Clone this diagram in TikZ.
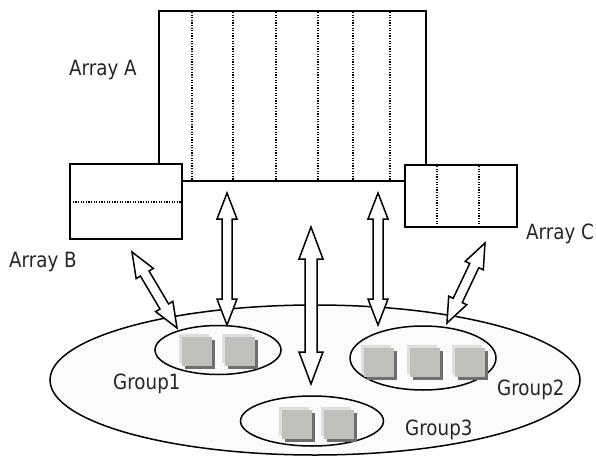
\documentclass[tikz,border=0pt]{standalone}
\usepackage{fontspec}
\setmainfont{DejaVu Sans}[FakeStretch=0.87]
\usetikzlibrary{calc,shapes.geometric}
\definecolor{sqmain}{HTML}{C0BFBC}
\definecolor{sqlight}{HTML}{DEDEDE}
\definecolor{sqdark}{HTML}{6E6E6E}
\definecolor{ellfill}{HTML}{FBFBFB}
\tikzset{
  outline/.style={draw=black, line width=1.5pt},
  arraybox/.style={outline, fill=white, rectangle, inner sep=0pt},
  groupell/.style={outline, fill=ellfill, ellipse, inner sep=0pt},
  dotline/.style={line width=1.3pt, dash pattern=on 1.2pt off 1.4pt},
  lbl/.style={font=\fontsize{21}{25}\selectfont, text=black!85, inner sep=0pt, anchor=base west},
  barrow/.style={outline, fill=white, line join=miter},
}
% block arrow: start, end, shaft half width, head half width, head length
\newcommand\blockarrow[5]{%
  \draw[barrow] (#1)
    -- ($(#1)!#5!(#2)!#4!90:(#2)$)
    -- ($(#1)!#5!(#2)!#3!90:(#2)$)
    -- ($(#2)!#5!(#1)!#3!-90:(#1)$)
    -- ($(#2)!#5!(#1)!#4!-90:(#1)$)
    -- (#2)
    -- ($(#2)!#5!(#1)!#4!90:(#1)$)
    -- ($(#2)!#5!(#1)!#3!90:(#1)$)
    -- ($(#1)!#5!(#2)!#3!-90:(#2)$)
    -- ($(#1)!#5!(#2)!#4!-90:(#2)$)
    -- cycle;}
% grey square with highlight and shadow
\newcommand\grsquare[2]{%
  \fill[sqdark] (#1+3-15,#2+3-14.5) rectangle ++(30,29);
  \fill[sqlight] (#1-3-15,#2-3-14.5) rectangle ++(30,29);
  \fill[sqmain] (#1-15,#2-14.5) rectangle ++(30,29);}
\begin{document}
\begin{tikzpicture}[x=1pt,y=-1pt]
\useasboundingbox (0,0) rectangle (596,457);
\fill[white] (0,0) rectangle (596,457);

% big ellipse and groups
\node[groupell, minimum width=530, minimum height=150] (big) at (315,380) {};
\node[groupell, minimum width=126, minimum height=49] (g1) at (218,350) {};
\node[groupell, minimum width=146, minimum height=64] (g2) at (423,358) {};
\node[groupell, minimum width=143, minimum height=50] (g3) at (312,421) {};

\grsquare{197}{351}
\grsquare{240}{351}
\grsquare{379}{362}
\grsquare{425}{362}
\grsquare{470}{362}
\grsquare{297}{424}
\grsquare{339}{424}

% arrays
\node[arraybox, minimum width=267, minimum height=170] (A) at (292.5,96) {};
\foreach \x in {192,233,276,318,353,390}
  \draw[dotline] (\x,12) -- (\x,180);
\node[arraybox, minimum width=112, minimum height=75] (B) at (126,201.5) {};
\draw[dotline] (B.west |- 0,202) ++(1,0) -- ($(B.east |- 0,202)+(-1,0)$);
\node[arraybox, minimum width=112, minimum height=62] (C) at (461,196) {};
\foreach \x in {437,479}
  \draw[dotline] (\x,166) -- (\x,226);

% labels
\node[lbl] (la) at (69,76) {Array A};
\node[lbl] (lb) at (9,267) {Array B};
\node[lbl] (lc) at (526,239) {Array C};
\node[lbl] (l1) at (113,389) {Group1};
\node[lbl] (l2) at (497,395) {Group2};
\node[lbl] (l3) at (405,435) {Group3};

% arrow end points
\coordinate (b1) at (132,252);  \coordinate (g1a) at (177,328);
\coordinate (a1) at (227,193);  \coordinate (g1b) at (227,325);
\coordinate (a2) at (311,227);  \coordinate (g3a) at (311,384);
\coordinate (a3) at (378,193);  \coordinate (g2a) at (378,325);
\coordinate (c1) at (485,243);  \coordinate (g2b) at (447,323);

\blockarrow{b1}{g1a}{5pt}{10pt}{25pt}
\blockarrow{a1}{g1b}{5pt}{10pt}{26pt}
\blockarrow{a2}{g3a}{6pt}{12pt}{32pt}
\blockarrow{a3}{g2a}{5pt}{10pt}{26pt}
\blockarrow{c1}{g2b}{5pt}{10pt}{25pt}
\end{tikzpicture}
\end{document}
